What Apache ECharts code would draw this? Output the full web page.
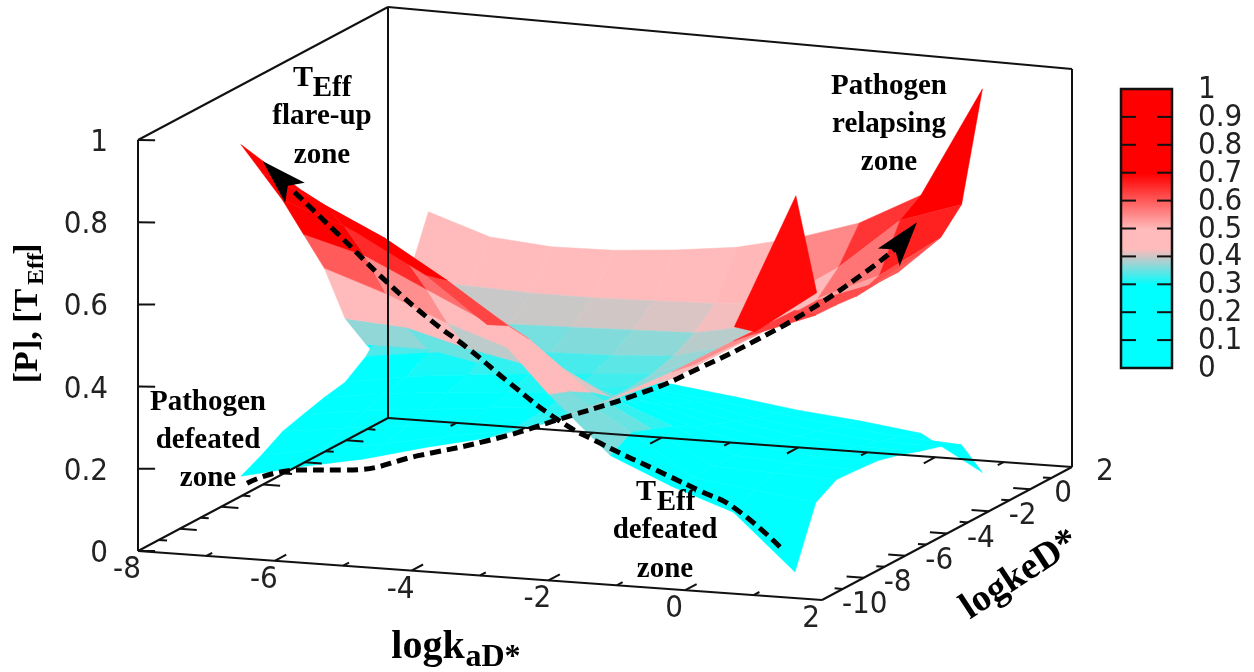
<!DOCTYPE html>
<html><head><meta charset="utf-8">
<style>html,body{margin:0;padding:0;background:#fff}#c{width:1254px;height:672px}</style>
<script src="https://cdn.jsdelivr.net/npm/echarts@6/dist/echarts.min.js"></script>
</head><body><div id="c"></div>
<script>
// ---------- data ----------
const logkaD = [-6.8,-5.9,-5,-4.1,-3.2,-2.3,-1.4,-0.5,0.4,1.3];
const logkD  = [-9,-8,-7,-6,-5,-4,-3,-2,-1,0];
// rows follow logkD, columns follow logkaD
const pathogen = [
 [.17,.205,.235,.275,.31,.36,.43,.51,.60,.69],
 [.195,.22,.245,.275,.30,.35,.42,.50,.59,.65],
 [.225,.245,.26,.28,.30,.34,.41,.50,.59,.648],
 [.24,.26,.275,.29,.305,.34,.40,.495,.59,.643],
 [.254,.275,.29,.30,.315,.34,.40,.49,.59,.648],
 [.264,.29,.305,.32,.33,.345,.40,.49,.56,.648],
 [.30,.32,.335,.345,.35,.36,.40,.49,.55,.663],
 [.363,.37,.375,.38,.385,.39,.42,.50,.57,.678],
 [.433,.43,.425,.425,.43,.435,.45,.55,.68,.733],
 [.572,.523,.511,.515,.528,.547,.583,.633,.715,.995]
];
const tEff = [
 [.98,.88,.78,.70,.59,.43,.29,.225,.172,.034],
 [.885,.82,.75,.66,.56,.41,.32,.22,.20,.18],
 [.79,.74,.67,.59,.50,.38,.30,.22,.215,.21],
 [.68,.64,.57,.50,.42,.34,.28,.22,.21,.207],
 [.57,.52,.46,.41,.35,.30,.25,.215,.20,.202],
 [.42,.41,.37,.34,.30,.27,.23,.20,.185,.188],
 [.33,.33,.30,.29,.27,.24,.21,.185,.17,.17],
 [.25,.28,.27,.26,.24,.22,.19,.17,.155,.154],
 [.25,.25,.24,.23,.21,.195,.175,.155,.14,.13],
 [.26,.24,.228,.21,.195,.176,.155,.14,.12,.033]
];
// single outlying facet on the pathogen surface
const outlierCell = [[-0.5,-6,.54],[0.4,-6,.88],[0.4,-5,.61],[-0.5,-5,.50]];
const outlierLevel = 0.69;
// dashed guide curves [logkaD, logkD, value]
const tEffPath = [[1.08,-9,.094],[.395,-9,.185],[-.09,-9,.219],[-.57,-9,.252],[-1.55,-9,.319],[-2.16,-9,.368],[-2.87,-9,.45],[-3.45,-9,.524],[-4.03,-9,.59],[-4.65,-9,.672],[-5.395,-9,.784],[-6.05,-9,.88]];
const tEffTip = [-6.48,-9,.944];
const pathogenPath = [[-6.71,-9,.154],[-5.95,-9,.196],[-5.28,-9,.204],[-4.17,-9,.255],[-3.04,-9,.312],[-2.18,-9,.368],[-.82,-9,.461],[-.09,-9,.526],[.745,-9,.608],[1.3,-8.32,.671],[1.3,-5.68,.691],[1.3,-4.14,.711]];
const pathogenTip = [1.3,-3.14,.748];

const xTicks = [-8,-7,-6,-5,-4,-3,-2,-1,0,1,2];
const yTicks = [-10,-9,-8,-7,-6,-5,-4,-3,-2,-1,0,1,2];
const zTicks = [0,.2,.4,.6,.8,1];
const barTicks = [.1,.2,.3,.4,.5,.6,.7,.8,.9];
const barLabels = [0,.1,.2,.3,.4,.5,.6,.7,.8,.9,1];
const paletteStops = [[0,[0,255,255]],[.3,[0,255,255]],[.4,[200,200,200]],[.43,[255,187,187]],[.5,[255,187,187]],[.7,[255,0,0]],[1,[255,0,0]]];

// ---------- view of the 3D box on the page ----------
const view = {ox:138, oy:551, exX:684, exY:49, eyX:250, eyY:-133, h0:411, hSlope:13};
function project(p){
  const a=(p[0]+8)/10, b=(p[1]+10)/12;
  return [view.ox+a*view.exX+b*view.eyX, view.oy+a*view.exY+b*view.eyY-p[2]*(view.h0-view.hSlope*a)];
}
function nearness(p){ return .366*(p[0]+8)/10-(p[1]+10)/12+.367*p[2]; }
function colorOf(v){
  for(let k=1;k<paletteStops.length;k++){
    const s0=paletteStops[k-1], s1=paletteStops[k];
    if(v<=s1[0]){
      const t=(v-s0[0])/(s1[0]-s0[0]);
      const c=s0[1].map((q,n)=>Math.round(q+(s1[1][n]-q)*t));
      return `rgb(${c.join(',')})`;
    }
  }
  return 'rgb(255,0,0)';
}
// ---------- build facets ----------
const cells=[];
function addSheet(g){
  for(let j=0;j<logkD.length-1;j++)for(let i=0;i<logkaD.length-1;i++){
    const pts=[[logkaD[i],logkD[j],g[j][i]],[logkaD[i+1],logkD[j],g[j][i+1]],[logkaD[i+1],logkD[j+1],g[j+1][i+1]],[logkaD[i],logkD[j+1],g[j+1][i]]];
    const m=(g[j][i]+g[j][i+1]+g[j+1][i]+g[j+1][i+1])/4;
    const c=[(logkaD[i]+logkaD[i+1])/2,(logkD[j]+logkD[j+1])/2,m];
    cells.push({pts,color:colorOf(m),n:nearness(c)});
  }
}
addSheet(tEff); addSheet(pathogen);
cells.sort((a,b)=>a.n-b.n);
cells.push({pts:outlierCell,color:colorOf(outlierLevel),n:9});

const textFont='"DejaVu Sans Condensed","Liberation Sans",sans-serif';
const xMin=-8,xMax=2,yMin=-10,yMax=2;
const boxEdges=[
 [[xMin,yMin,0],[xMax,yMin,0]],[[xMax,yMin,0],[xMax,yMax,0]],[[xMax,yMax,0],[xMin,yMax,0]],[[xMin,yMax,0],[xMin,yMin,0]],
 [[xMin,yMin,0],[xMin,yMin,1]],[[xMin,yMax,0],[xMin,yMax,1]],[[xMax,yMax,0],[xMax,yMax,1]],
 [[xMin,yMin,1],[xMin,yMax,1]],[[xMin,yMax,1],[xMax,yMax,1]]
];
const tickSegs=[];
xTicks.forEach(x=>{const L=(x%2===0)?.55:.28;
  if(x>xMin&&x<xMax){tickSegs.push([[x,yMin,0],[x,yMin+L,0]]);tickSegs.push([[x,yMax,0],[x,yMax-L,0]]);}});
yTicks.forEach(y=>{const L=(y%2===0)?.25:.12;
  if(y>yMin&&y<yMax){tickSegs.push([[xMin,y,0],[xMin+L,y,0]]);tickSegs.push([[xMax,y,0],[xMax-L,y,0]]);}});
zTicks.forEach(z=>{tickSegs.push([[xMin,yMin,z],[xMin+.25,yMin,z+.003]]);});
const segs=boxEdges.concat(tickSegs);

const tickTexts=[];
xTicks.filter(x=>x%2===0).forEach(x=>tickTexts.push({p:[x,yMin,0],dx:-11,dy:19,t:String(x),al:'center'}));
yTicks.filter(y=>y%2===0).forEach(y=>tickTexts.push({p:[xMax,y,0],dx:y>=0?24:20,dy:5,t:String(y),al:'left'}));
zTicks.forEach(z=>tickTexts.push({p:[xMin,yMin,z],dx:-30,dy:3,t:String(z),al:'right'}));

function lineData(path){return path.map(project);}
function arrowData(path,tip){return [{tail:project(path[path.length-1]),tip:project(tip)}];}
const arrows=[...arrowData(tEffPath,tEffTip),...arrowData(pathogenPath,pathogenTip)];

const barLevels=[]; for(let k=0;k<200;k++) barLevels.push(k/200);

const S='"Liberation Serif",serif';
function T(t,x,y,size,rot){return {type:'text',x,y,rotation:rot||0,z:50,style:{text:t,align:'center',verticalAlign:'middle',fill:'#000',font:`bold ${size}px ${S}`}};}

const option={
 animation:false,
 backgroundColor:'#fff',
 grid:[{left:0,right:0,top:0,bottom:0},{left:1121,width:51,top:89,height:279}],
 xAxis:[{type:'value',min:0,max:1254,show:false,gridIndex:0},{type:'value',min:0,max:1,show:false,gridIndex:1}],
 yAxis:[
  {type:'value',min:0,max:672,inverse:true,show:false,gridIndex:0},
  {type:'value',min:0,max:1,interval:.1,gridIndex:1,position:'right',show:false}
 ],
 series:[
  {type:'custom',name:'surfaces',coordinateSystem:'cartesian2d',xAxisIndex:0,yAxisIndex:0,z:2,clip:false,silent:true,
   data:cells.map((c,i)=>[project(c.pts[0])[0],project(c.pts[0])[1],i]),
   renderItem(params,api){
     const c=cells[params.dataIndex];
     return {type:'polygon',shape:{points:c.pts.map(p=>api.coord(project(p)))},style:{fill:c.color,stroke:c.color,lineWidth:.5}};
   }},
  {type:'custom',name:'box',coordinateSystem:'cartesian2d',xAxisIndex:0,yAxisIndex:0,z:3,clip:false,silent:true,
   data:segs.map((s,i)=>[project(s[0])[0],project(s[0])[1],i]),
   renderItem(params,api){
     const s=segs[params.dataIndex],a=api.coord(project(s[0])),b=api.coord(project(s[1]));
     return {type:'line',shape:{x1:a[0],y1:a[1],x2:b[0],y2:b[1]},style:{stroke:'#111',lineWidth:2}};
   }},
  {type:'line',name:'tEffPath',xAxisIndex:0,yAxisIndex:0,z:4,data:lineData(tEffPath),smooth:.5,showSymbol:false,silent:true,
   lineStyle:{color:'#000',width:5,type:[11,6]}},
  {type:'line',name:'pathogenPath',xAxisIndex:0,yAxisIndex:0,z:4,data:lineData(pathogenPath),smooth:.5,showSymbol:false,silent:true,
   lineStyle:{color:'#000',width:5,type:[11,6]}},
  {type:'custom',name:'arrows',coordinateSystem:'cartesian2d',xAxisIndex:0,yAxisIndex:0,z:5,clip:false,silent:true,
   data:arrows.map((r,i)=>[r.tip[0],r.tip[1],i]),
   renderItem(params,api){
     const r=arrows[params.dataIndex],t=api.coord(r.tip),q=api.coord(r.tail);
     const len=Math.hypot(q[0]-t[0],q[1]-t[1]),ux=(q[0]-t[0])/len,uy=(q[1]-t[1])/len;
     const L=45,W=14,N=35;
     return {type:'polygon',shape:{points:[t,[t[0]+ux*L-uy*W,t[1]+uy*L+ux*W],[t[0]+ux*N,t[1]+uy*N],[t[0]+ux*L+uy*W,t[1]+uy*L-ux*W]]},style:{fill:'#000'}};
   }},
  {type:'custom',name:'tickLabels',coordinateSystem:'cartesian2d',xAxisIndex:0,yAxisIndex:0,z:6,clip:false,silent:true,
   data:tickTexts.map((r,i)=>[project(r.p)[0],project(r.p)[1],i]),
   renderItem(params,api){
     const r=tickTexts[params.dataIndex],a=api.coord(project(r.p));
     return {type:'text',style:{text:r.t,x:a[0]+r.dx,y:a[1]+r.dy,align:r.al,verticalAlign:'middle',fill:'#222',font:`31px ${textFont}`}};
   }},
  {type:'custom',name:'colorbar',coordinateSystem:'cartesian2d',xAxisIndex:1,yAxisIndex:1,z:2,silent:true,
   data:barLevels.map(v=>[0,v]),
   renderItem(params,api){
     const v=api.value(1),a=api.coord([0,v+.005]),b=api.coord([1,v]);
     return {type:'rect',shape:{x:a[0],y:a[1],width:b[0]-a[0],height:b[1]-a[1]+1},style:{fill:colorOf(v+.0025)}};
   }},
  {type:'custom',name:'colorbarTicks',coordinateSystem:'cartesian2d',xAxisIndex:1,yAxisIndex:1,z:8,silent:true,
   data:barTicks.map(v=>[0,v]),
   renderItem(params,api){
     const v=api.value(1),a=api.coord([0,v]),b=api.coord([1,v]);
     const st={stroke:'#111',lineWidth:2};
     return {type:'group',children:[
       {type:'line',shape:{x1:a[0],y1:a[1],x2:a[0]+15,y2:a[1]},style:st},
       {type:'line',shape:{x1:b[0]-15,y1:b[1],x2:b[0],y2:b[1]},style:st}]};
   }},
  {type:'custom',name:'colorbarLabels',coordinateSystem:'cartesian2d',xAxisIndex:1,yAxisIndex:1,z:8,silent:true,clip:false,
   data:barLabels.map(v=>[1,v]),
   renderItem(params,api){
     const v=api.value(1),a=api.coord([1,v]);
     return {type:'text',style:{text:String(v),x:a[0]+26,y:a[1]+1,align:'left',verticalAlign:'middle',fill:'#222',font:`31px ${textFont}`}};
   }},
  {type:'custom',name:'colorbarFrame',coordinateSystem:'cartesian2d',xAxisIndex:1,yAxisIndex:1,z:9,silent:true,clip:false,
   data:[[0,1]],
   renderItem(params,api){
     const a=api.coord([0,1]),b=api.coord([1,0]);
     return {type:'rect',shape:{x:a[0],y:a[1],width:b[0]-a[0],height:b[1]-a[1]},style:{fill:'none',stroke:'#111',lineWidth:2.5}};
   }}
 ],
 graphic:[
  T('T',303,78,30),T('Eff',332,89,29),T('flare-up',322,117,29),T('zone',322,156,29),
  T('Pathogen',889,87,29),T('relapsing',889,125,29),T('zone',889,163,29),
  T('Pathogen',208,403,29),T('defeated',208,441,29),T('zone',208,479,29),
  T('T',646,492,30),T('Eff',676,503,29),T('defeated',665,531,29),T('zone',665,570,29),
  T('logk',428,648,40),T('aD*',493,658,32),
  T('logkeD*',1020,575,38,.58),
  T('[P], [T',28,336,34,Math.PI/2),T('Eff',37,269,24,Math.PI/2),T(']',28,249,34,Math.PI/2)
 ]
};
const chart=echarts.init(document.getElementById('c'));
chart.setOption(option);
</script></body></html>
